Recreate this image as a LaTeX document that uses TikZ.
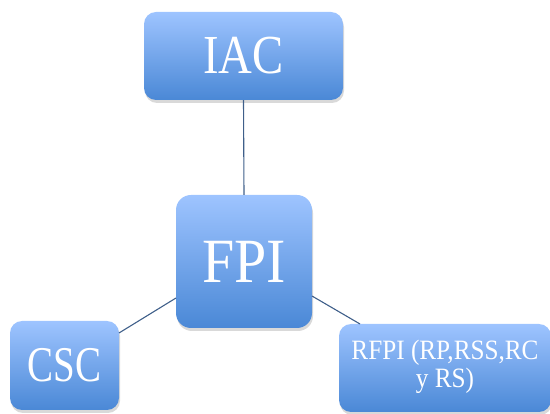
\documentclass[tikz,border=0pt]{standalone}
\usepackage{fontspec}
\usepackage{graphicx}
\setmainfont{Liberation Serif}
\usetikzlibrary{shadows}
\definecolor{boxtop}{HTML}{9EC4FF}
\definecolor{boxbot}{HTML}{4A88D6}
\definecolor{linkcol}{HTML}{3F5F8A}
% horizontally condensed label text
\newcommand\condensed[2]{\scalebox{#1}[1]{#2}}
\tikzset{
  box/.style={rounded corners=12pt, top color=boxtop, bottom color=boxbot,
    draw=none, text=white, align=center,
    drop shadow={shadow xshift=1pt, shadow yshift=-3pt, opacity=0.3}},
  link/.style={draw=linkcol, line width=1.1pt}
}
\begin{document}
\begin{tikzpicture}[x=1pt,y=-1pt]
\useasboundingbox (0,0) rectangle (550,414);
% boxes
\node[box, minimum width=199pt, minimum height=88pt, font=\fontsize{55}{58}\selectfont] (iac) at (243.5,56) {\condensed{0.85}{IAC}};
\node[box, rounded corners=15pt, minimum width=136pt, minimum height=133pt, font=\fontsize{63}{66}\selectfont] (fpi) at (244,261.5) {\condensed{0.92}{FPI}};
\node[box, minimum width=109pt, minimum height=89pt, font=\fontsize{50}{54}\selectfont] (csc) at (64.5,365.5) {\condensed{0.78}{CSC}};
\node[box, minimum width=212pt, minimum height=88pt, font=\fontsize{28}{27}\selectfont] (rfpi) at (445,368) {\condensed{0.9}{\begin{tabular}{@{}c@{}}RFPI (RP,RSS,RC\\y RS)\end{tabular}}};
% connectors
\coordinate (fpiL) at (176,298);
\coordinate (fpiR) at (312,296);
\coordinate (cscR) at (119,333);
\coordinate (rfpiT) at (360,324);
\draw[link] (iac.south) -- (fpi.north);
\draw[link] (fpiL) -- (cscR);
\draw[link] (fpiR) -- (rfpiT);
\end{tikzpicture}
\end{document}
